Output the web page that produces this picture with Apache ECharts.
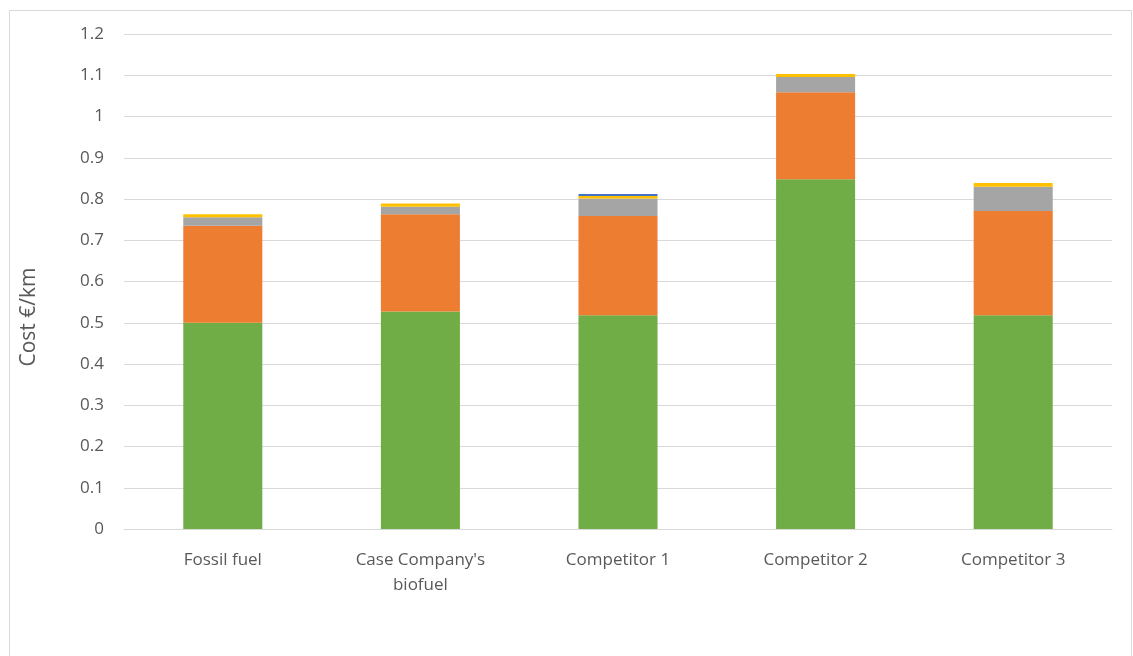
<!DOCTYPE html>
<html>
<head>
<meta charset="utf-8">
<script src="https://cdn.jsdelivr.net/npm/echarts@6/dist/echarts.min.js"></script>
<style>
  html, body { margin: 0; padding: 0; background: #fff; }
  #chart { width: 1133px; height: 656px; }
</style>
</head>
<body>
<div id="chart"></div>
<script>
// categories and stacked values (bottom to top)
const categories = ['Fossil fuel', "Case Company's\nbiofuel", 'Competitor 1', 'Competitor 2', 'Competitor 3']
const greenVals = [0.500, 0.527, 0.518, 0.848, 0.518]
const orangeVals = [0.235, 0.236, 0.241, 0.211, 0.253]
const grayVals = [0.021, 0.018, 0.042, 0.037, 0.059]
const yellowVals = [0.007, 0.008, 0.006, 0.007, 0.009]
const blueVals = [0, 0, 0.005, 0, 0]

const seriesDefs = [
    { name: 'S1', data: greenVals, color: '#70AD47' },
    { name: 'S2', data: orangeVals, color: '#ED7D31' },
    { name: 'S3', data: grayVals, color: '#A5A5A5' },
    { name: 'S4', data: yellowVals, color: '#FFC000' },
    { name: 'S5', data: blueVals, color: '#4472C4' }
]

let chart = echarts.init(document.getElementById('chart'))

let option = {
    animation: false,
    textStyle: { fontFamily: '"Open Sans", sans-serif' },
    graphic: [{
        type: 'rect',
        shape: { x: 9.5, y: 10.5, width: 1122, height: 700 },
        style: { fill: 'none', stroke: '#d9d9d9', lineWidth: 1 },
        silent: true
    }, {
        // y axis title, placed like the original (a bit below the grid centre)
        type: 'text',
        x: 29,
        y: 317,
        rotation: Math.PI / 2,
        style: {
            text: 'Cost €/km',
            fill: '#595959',
            fontSize: 21,
            fontFamily: '"Open Sans", sans-serif',
            align: 'center',
            verticalAlign: 'middle'
        },
        silent: true
    }],
    grid: { left: 124, right: 21, top: 34, bottom: 127 },
    xAxis: {
        type: 'category',
        data: categories,
        axisLine: { lineStyle: { color: '#d9d9d9' } },
        axisTick: { show: false },
        axisLabel: { color: '#595959', fontSize: 17, margin: 19, lineHeight: 25 }
    },
    yAxis: {
        type: 'value',
        min: 0,
        max: 1.2,
        interval: 0.1,
        axisLine: { show: false },
        axisTick: { show: false },
        axisLabel: {
            color: '#595959', fontSize: 17, margin: 20,
            formatter: v => String(Math.round(v * 10) / 10)
        },
        splitLine: { lineStyle: { color: '#d9d9d9' } }
    },
    series: seriesDefs.map(s => ({
        name: s.name,
        type: 'bar',
        stack: 'cost',
        barWidth: '40%',
        data: s.data,
        itemStyle: { color: s.color }
    }))
}

chart.setOption(option)
</script>
</body>
</html>
